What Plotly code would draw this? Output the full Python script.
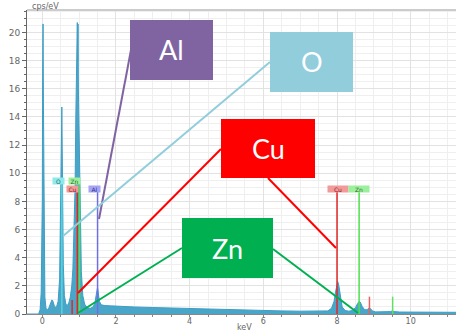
import plotly.graph_objects as go

# Spectrum data (keV, cps/eV)
energy = [-0.42, -0.10, -0.06, -0.03, -0.01, 0.00, 0.01, 0.02, 0.03, 0.04, 0.05, 0.07, 0.10,
          0.14, 0.18, 0.22, 0.26, 0.29, 0.33, 0.38, 0.43, 0.47, 0.50, 0.52, 0.53, 0.54, 0.55,
          0.57, 0.60, 0.64, 0.68, 0.72, 0.76, 0.80, 0.83, 0.86, 0.89, 0.91, 0.93, 0.94, 0.95,
          0.96, 0.97, 0.98, 0.99, 1.01, 1.03, 1.06, 1.10, 1.15, 1.22, 1.30, 1.38, 1.43, 1.46,
          1.48, 1.50, 1.52, 1.55, 1.60, 1.70, 1.85, 2.0, 2.5, 3.0, 3.5, 4.0, 4.5, 5.0, 5.5,
          6.0, 6.5, 7.0, 7.5, 7.75, 7.85, 7.92, 7.97, 8.00, 8.02, 8.05, 8.09, 8.14, 8.22,
          8.32, 8.42, 8.50, 8.56, 8.60, 8.63, 8.68, 8.75, 8.82, 8.86, 8.88, 8.91, 8.96, 9.05,
          9.3, 9.45, 9.50, 9.55, 9.7, 10.0, 10.5, 11.0, 11.23]
counts = [0, 0, 0.3, 1.5, 6, 8, 17.4, 20.6, 15.2, 9, 4, 1.2, 0.4,
          0.3, 0.45, 0.7, 1.0, 0.9, 0.55, 0.45, 0.9, 2.5, 7, 12.5, 14.7, 12, 8,
          3.5, 1.3, 0.7, 0.6, 0.8, 1.2, 2.0, 3.2, 5.5, 9, 14, 17, 19.3, 20.7,
          18, 20.6, 16, 14, 10, 6, 3, 1.3, 0.7, 0.45, 0.4, 0.5, 0.8, 1.3,
          1.7, 1.9, 1.5, 0.9, 0.65, 0.6, 0.58, 0.55, 0.5, 0.46, 0.42, 0.38, 0.34, 0.3, 0.27,
          0.24, 0.22, 0.2, 0.2, 0.22, 0.4, 0.9, 1.7, 2.2, 2.3, 2.0, 1.2, 0.5, 0.25,
          0.2, 0.25, 0.45, 0.75, 0.9, 0.85, 0.55, 0.3, 0.3, 0.42, 0.45, 0.38, 0.22, 0.15,
          0.15, 0.17, 0.22, 0.17, 0.14, 0.13, 0.12, 0.12, 0.12]

# Element marker lines: label, energy, top height, label position, colours
marker_names = ["O", "Zn", "Cu", "Al", "Cu", "Zn"]
marker_energy = [0.53, 1.01, 0.95, 1.50, 8.00, 8.60]
marker_top = [9.18, 9.18, 8.69, 8.69, 8.69, 8.69]
marker_label_x = [0.45, 0.88, 0.81, 1.43, 8.02, 8.60]
marker_label_y = [9.42, 9.42, 8.9, 8.9, 8.9, 8.9]
marker_line_col = ["#55D4DC", "#4CE04C", "#E02828", "#6E6EE6", "#E02828", "#4CE04C"]
marker_bg = ["#8EEAEA", "#9CF09C", "#F29A9A", "#A4A4F2", "#F29A9A", "#9CF09C"]
marker_txt = ["#2A6C6C", "#2E6A2E", "#902020", "#30309A", "#902020", "#2E6A2E"]

small_energy = [0.81, 8.88, 9.51]
small_top = [1.0, 1.23, 1.23]
small_col = ["#E02828", "#E86060", "#60E060"]

x_ticks = [0, 2, 4, 6, 8, 10]
y_ticks = [0, 2, 4, 6, 8, 10, 12, 14, 16, 18, 20]

W, H = 456, 331
ML, MR, MT, MB = 27, 0, 10, 17
PW, PH = W - ML - MR, H - MT - MB


def P(x, y):
    return (x - ML) / PW, (H - MB - y) / PH


fig = go.Figure()
fig.add_trace(go.Scatter(x=energy, y=counts, mode="lines", fill="tozeroy",
                         line=dict(color="#3E9EC6", width=1), fillcolor="#4AA6C9",
                         hoverinfo="skip", showlegend=False))

shapes = []
annotations = []

for e, t, c in zip(marker_energy, marker_top, marker_line_col):
    shapes.append(dict(type="line", xref="x", yref="y", x0=e, x1=e, y0=0, y1=t,
                       line=dict(color=c, width=1.5)))
for e, t, c in zip(small_energy, small_top, small_col):
    shapes.append(dict(type="line", xref="x", yref="y", x0=e, x1=e, y0=0, y1=t,
                       line=dict(color=c, width=1.5)))
for n, lx, ly, bg, tc in zip(marker_names, marker_label_x, marker_label_y, marker_bg, marker_txt):
    annotations.append(dict(x=lx, y=ly, xref="x", yref="y", text=n, showarrow=False,
                            bgcolor=bg, font=dict(size=6, color=tc, family="DejaVu Sans"),
                            borderpad=0, width=20 if lx > 5 else 11, height=6))

# top border
shapes.append(dict(type="line", xref="paper", yref="paper", x0=0, x1=1, y0=1, y1=1,
                   line=dict(color="#CCCCCC", width=2)))

# callout boxes: name, colour, pixel box (x0, y0, x1, y1), leader lines
callouts = [
    ("Al", "#8064A2", (130, 20, 213, 80), [((131, 50), (99, 219))]),
    ("O", "#92CDDC", (270, 32, 353, 92), [((270, 62), (63, 236))]),
    ("Cu", "#FF0000", (221, 119, 315, 178), [((221, 149), (78, 293)), ((268, 178), (336, 248))]),
    ("Zn", "#00B050", (182, 218, 273, 278), [((182, 248), (78, 313)), ((273, 249), (358, 313))]),
]
for name, col, (bx0, by0, bx1, by1), lines in callouts:
    for (a, b) in lines:
        xa, ya = P(*a)
        xb, yb = P(*b)
        shapes.append(dict(type="line", xref="paper", yref="paper", x0=xa, y0=ya, x1=xb, y1=yb,
                           line=dict(color=col, width=2)))
    px0, py0 = P(bx0, by1)
    px1, py1 = P(bx1, by0)
    shapes.append(dict(type="rect", xref="paper", yref="paper", x0=px0, y0=py0, x1=px1, y1=py1,
                       fillcolor=col, line=dict(width=0)))
    cx, cy = P((bx0 + bx1) / 2, (by0 + by1) / 2)
    annotations.append(dict(x=cx, y=cy, xref="paper", yref="paper", text=name, showarrow=False,
                            font=dict(size=27, color="white", family="Lato"),
                            xanchor="center", yanchor="middle"))

tx, ty = P(30, 6)
annotations.append(dict(x=tx, y=ty, xref="paper", yref="paper", text="cps/eV", showarrow=False,
                        xanchor="left", yanchor="middle",
                        font=dict(size=8, color="#666666", family="DejaVu Sans")))
kx, ky = P(244, 327)
annotations.append(dict(x=kx, y=ky, xref="paper", yref="paper", text="keV", showarrow=False,
                        xanchor="center", yanchor="middle",
                        font=dict(size=8, color="#666666", family="DejaVu Sans")))

fig.update_layout(
    width=W, height=H, margin=dict(l=ML, r=MR, t=MT, b=MB),
    paper_bgcolor="white", plot_bgcolor="white",
    shapes=shapes, annotations=annotations, showlegend=False,
    xaxis=dict(range=[(ML - 42.3) / 36.84, (ML - 42.3) / 36.84 + PW / 36.84],
               tickvals=x_ticks, ticktext=[str(v) for v in x_ticks],
               showline=True, linecolor="#888888", linewidth=1,
               ticks="outside", ticklen=2, tickcolor="#888888", ticklabelstandoff=-3,
               tickfont=dict(size=8, color="#666666", family="DejaVu Sans"),
               showgrid=True, gridcolor="#E2E2E2", gridwidth=1, zeroline=False,
               minor=dict(dtick=0.5, showgrid=True, gridcolor="#EFEFEF", ticks="outside",
                          ticklen=2, tickcolor="#888888")),
    yaxis=dict(range=[0, PH / 14.08],
               tickvals=y_ticks, ticktext=[str(v) for v in y_ticks],
               showline=True, linecolor="#666666", linewidth=1,
               ticks="outside", ticklen=4, tickcolor="#666666",
               tickfont=dict(size=9, color="#666666", family="DejaVu Sans"),
               showgrid=True, gridcolor="#E2E2E2", gridwidth=1, zeroline=False,
               minor=dict(dtick=0.5, showgrid=True, gridcolor="#EFEFEF", ticks="outside",
                          ticklen=2, tickcolor="#666666")),
)

fig.write_html("out.html", config={"displayModeBar": False},
               post_script="document.body.style.margin='0';document.body.style.padding='0';")
